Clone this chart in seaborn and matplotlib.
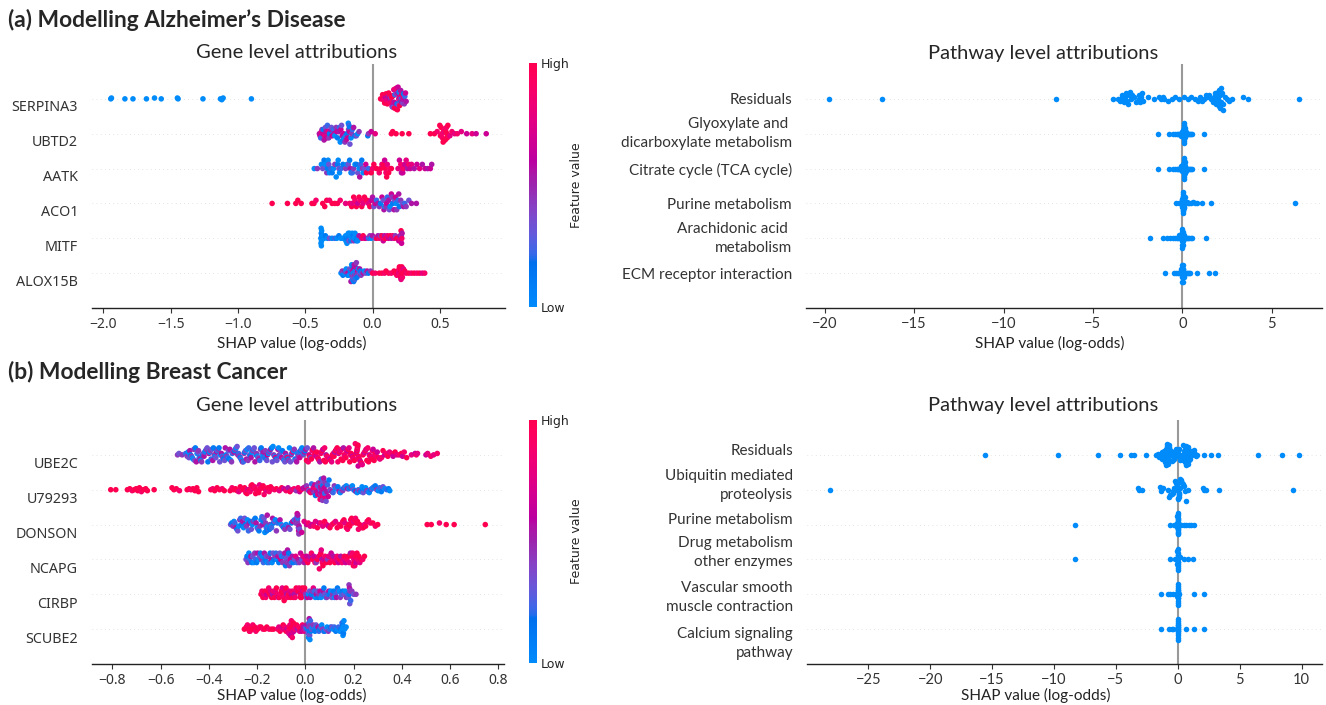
import numpy as np
import pandas as pd
import matplotlib
matplotlib.use("Agg")
import matplotlib.pyplot as plt
import matplotlib.transforms as mtransforms
from matplotlib.colors import LinearSegmentedColormap, Normalize
from matplotlib.cm import ScalarMappable
import seaborn as sns

# ------------------------------------------------------------------ data
# gene rows: (SHAP value x 1000, feature value code 0=low .. 9=high)
AD_GENES = ["SERPINA3", "UBTD2", "AATK", "ACO1", "MITF", "ALOX15B"]
SERPINA3 = [(-1945,0),(-1940,0),(-1840,0),(-1780,0),(-1680,0),(-1620,0),(-1570,0),(-1450,0),(-1445,0),(-1260,0),(-1130,0),(-1120,0),(-1110,0),(-900,0),
    (60,9),(75,9),(80,8),(90,9),(95,6),(100,9),(105,7),(110,9),(115,5),(120,9),(122,8),(128,6),(130,9),(135,4),(140,8),(142,9),(145,6),(148,9),(150,3),
    (155,9),(158,7),(160,5),(163,9),(166,2),(170,8),(172,6),(175,9),(178,4),(180,7),(182,1),(185,9),(188,5),(190,6),(192,3),(195,8),(198,0),(200,6),
    (202,9),(204,4),(206,2),(208,7),(210,5),(212,1),(214,8),(216,4),(218,6),(220,0),(222,9),(224,5),(226,3),(228,7),(230,1),(233,5),(236,4),(240,2),(245,6),(250,5)]
UBTD2 = [(-395,5),(-390,6),(-385,2),(-380,7),(-375,4),(-370,6),(-365,1),(-360,5),(-355,7),(-350,3),(-345,5),(-340,6),(-335,2),(-330,7),(-325,4),(-320,1),
    (-310,5),(-305,3),(-300,6),(-290,2),(-285,5),(-280,0),(-270,4),(-265,6),(-260,1),(-250,5),(-245,2),(-240,0),(-235,6),(-230,3),(-225,5),(-220,1),
    (-215,6),(-210,0),(-205,4),(-200,2),(-195,5),(-190,1),(-185,6),(-180,0),(-178,4),(-175,2),(-172,5),(-170,1),(-168,3),(-165,6),(-160,0),(-155,4),
    (-150,2),(-140,5),(-130,1),(-120,3),(-110,0),(-100,4),(-35,1),(-30,4),(-10,6),(20,7),(140,9),(150,9),(175,9),(220,9),(270,9),(430,9),(460,9),
    (480,8),(500,9),(505,9),(510,9),(515,8),(520,8),(525,9),(528,9),(530,9),(535,7),(538,8),(540,9),(545,9),(550,8),(552,9),(555,9),(560,9),(575,7),
    (590,8),(610,7),(630,8),(660,7),(700,6),(740,7),(770,6),(845,6)]
AATK = [(-433,0),(-410,4),(-380,0),(-370,3),(-360,1),(-350,0),(-340,4),(-335,1),(-330,0),(-325,3),(-320,0),(-310,2),(-300,1),(-290,0),(-280,4),(-270,0),
    (-260,1),(-255,0),(-250,3),(-245,0),(-235,2),(-220,1),(-200,4),(-190,0),(-180,3),(-170,1),(-165,5),(-160,0),(-150,2),(-140,4),(-130,0),(-120,1),
    (-110,3),(-100,0),(-95,5),(-90,2),(-80,1),(-75,4),(-70,0),(-60,3),(-50,6),(-45,9),(-30,2),(-10,9),(0,8),(10,9),(30,9),(50,8),(60,9),(70,7),(80,9),
    (90,6),(95,9),(100,8),(105,9),(110,7),(120,9),(130,8),(140,9),(190,7),(200,6),(210,8),(215,5),(220,7),(225,6),(230,8),(240,6),(250,7),(260,5),
    (270,8),(280,6),(290,7),(310,5),(330,6),(350,7),(370,5),(390,6),(410,5),(430,6),(440,5)]
ACO1 = [(-746,9),(-632,9),(-570,9),(-555,9),(-530,9),(-450,9),(-435,9),(-420,8),(-370,9),(-355,9),(-340,9),(-320,8),(-300,9),(-280,9),(-260,9),(-240,8),
    (-200,7),(-170,8),(-155,9),(-150,7),(-140,9),(-130,8),(-120,9),(-110,6),(-100,9),(-90,8),(-80,9),(-70,7),(-60,9),(-50,8),(-40,9),(-30,7),(-20,9),
    (-10,6),(0,5),(10,3),(20,6),(30,2),(40,5),(50,4),(60,1),(70,6),(80,3),(85,5),(90,0),(100,4),(105,6),(110,2),(120,5),(125,3),(130,0),(140,6),(145,4),
    (150,1),(160,5),(165,3),(170,6),(175,0),(180,4),(190,2),(195,5),(200,1),(210,4),(220,3),(230,5),(240,2),(250,4),(270,3),(290,5),(326,5)]
MITF = [(-384,0),(-383,0),(-382,0),(-381,1),(-380,0),(-379,0),(-378,0),(-377,1),(-370,0),(-360,0),(-350,1),(-335,0),(-320,3),(-300,0),(-280,2),
    (-265,0),(-250,1),(-235,0),(-220,0),(-200,0),(-198,0),(-195,1),(-190,0),(-186,0),(-180,0),(-178,1),(-175,3),(-170,0),(-165,0),(-160,1),(-155,0),
    (-150,0),(-145,1),(-140,4),(-135,0),(-130,0),(-125,0),(-120,1),(-115,1),(-110,0),(-105,0),(-100,5),(-80,7),(-70,9),(-60,8),(-50,6),
    (-30,2),(-20,4),(-10,0),(0,5),(20,3),(30,9),(40,5),(50,8),(60,4),(70,9),(80,6),(85,8),(90,5),(100,9),(110,7),(120,6),(130,9),(140,5),(150,8),(160,7),
    (170,4),(180,9),(195,6),(200,8),(205,5),(210,7),(212,9),(214,4),(216,6),(218,8),(220,5)]
ALOX15B = [(-234,0),(-225,4),(-220,1),(-210,0),(-205,5),(-200,2),(-195,0),(-190,4),(-185,1),(-180,6),(-175,0),(-170,3),(-165,1),(-160,5),(-158,3),
    (-155,0),(-152,4),(-150,2),(-148,5),(-146,1),(-145,0),(-142,3),(-140,1),(-138,6),(-136,5),(-135,4),(-132,2),(-130,0),(-128,5),(-125,2),(-122,0),
    (-120,4),(-118,4),(-115,1),(-110,6),(-105,0),(-100,3),(-95,5),(-90,1),(-85,4),(-80,2),(-70,5),(-60,0),(-50,3),(-40,5),(-30,1),(-15,4),(0,9),(20,8),
    (50,9),(70,9),(90,8),(100,9),(120,9),(140,8),(160,9),(170,9),(180,8),(185,9),(190,9),(195,7),(198,8),(200,9),(205,8),(208,9),(210,9),(212,7),
    (215,9),(218,9),(220,8),(222,8),(225,9),(230,7),(240,9),(250,8),(270,9),(290,8),(310,9),(330,8),(350,9),(370,7),(388,8)]

# pathway rows: SHAP values (log-odds)
AD_PATHWAYS = ["Residuals", "Glyoxylate and \ndicarboxylate metabolism", "Citrate cycle (TCA cycle)",
               "Purine metabolism", "Arachidonic acid \nmetabolism", "ECM receptor interaction"]
AD_RESIDUALS = [-19.74, -16.8, -7.08, -3.89, -3.6, -3.5, -3.4, -3.35, -3.3, -3.25, -3.2, -3.15, -3.1, -3.05, -3.0, -2.95, -2.9, -2.8, -2.7,
                -2.6, -2.5, -2.45, -2.4, -2.35, -2.3, -2.25, -2.2, -1.9, -1.6, -1.3, -1.2, -1.1, -1.0, -0.8, -0.6, -0.4, -0.2, 0.1, 0.3, 0.5,
                0.7, 0.9, 1.0, 1.1, 1.2, 1.3, 1.4, 1.5, 1.6, 1.7, 1.75, 1.8, 1.85, 1.9, 1.95, 2.0, 2.02, 2.03, 2.05, 2.07, 2.1, 2.12, 2.15,
                2.18, 2.2, 2.25, 2.3, 2.4, 2.5, 2.6, 2.8, 3.4, 3.65, 6.5]
AD_GLYOX = [-1.37, -0.73, -0.5, -0.4, -0.3, -0.25, -0.2, -0.15, -0.1, -0.07, -0.05, -0.03, -0.02, 0.0, 0.02, 0.04, 0.05, 0.06, 0.07, 0.08,
            0.085, 0.09, 0.095, 0.1, 0.102, 0.105, 0.108, 0.11, 0.112, 0.115, 0.118, 0.12, 0.125, 0.13, 0.14, 0.15, 0.16, 0.18, 0.2, 0.22,
            0.25, 0.3, 0.35, 0.42, 0.5, 0.55, 1.22]
AD_CITRATE = [-1.38, -0.74, -0.5, -0.42, -0.3, -0.25, -0.2, -0.15, -0.12, -0.08, -0.05, -0.03, -0.01, 0.0, 0.02, 0.04, 0.05, 0.06, 0.07, 0.08,
              0.085, 0.09, 0.095, 0.1, 0.102, 0.105, 0.108, 0.11, 0.112, 0.115, 0.118, 0.12, 0.125, 0.13, 0.14, 0.15, 0.16, 0.18, 0.2, 0.22,
              0.26, 0.3, 0.36, 0.42, 0.5, 0.56, 1.22]
AD_PURINE = [-0.34, -0.2, -0.1, -0.06, -0.04, -0.02, -0.01, 0.0, 0.005, 0.01, 0.015, 0.02, 0.025, 0.03, 0.035, 0.04, 0.045, 0.05, 0.055,
             0.06, 0.07, 0.08, 0.1, 0.12, 0.15, 0.2, 0.25, 0.3, 0.4, 0.5, 0.6, 0.7, 0.83, 1.1, 1.63, 6.3]
AD_ARACH = [-1.8, -1.07, -0.86, -0.67, -0.5, -0.4, -0.3, -0.25, -0.2, -0.15, -0.1, -0.08, -0.06, -0.04, -0.03, -0.02, -0.01, 0.0, 0.005,
            0.01, 0.015, 0.02, 0.03, 0.04, 0.06, 0.08, 0.1, 0.15, 0.2, 0.25, 0.3, 0.4, 0.5, 0.55, 1.35]
AD_ECM = [-0.99, -0.45, -0.35, -0.25, -0.2, -0.15, -0.1, -0.07, -0.05, -0.03, -0.02, -0.01, 0.0, 0.005, 0.01, 0.015, 0.02, 0.03, 0.04,
          0.06, 0.08, 0.1, 0.15, 0.2, 0.25, 0.3, 0.35, 0.45, 0.83, 1.48, 1.8]

BC_GENES = ["UBE2C", "U79293", "DONSON", "NCAPG", "CIRBP", "SCUBE2"]
UBE2C = [(-530,4),(-524,3),(-511,4),(-496,2),(-490,4),(-486,0),(-483,3),(-479,5),(-476,1),(-472,4),(-469,2),(-466,0),(-462,4),(-459,3),(-456,1),
    (-452,5),(-449,0),(-446,3),(-443,4),(-440,2),(-436,5),(-433,0),(-430,4),(-427,1),(-423,3),(-420,5),(-417,2),(-414,0),(-410,4),(-407,3),(-404,1),
    (-400,5),(-397,0),(-394,4),(-391,2),(-387,3),(-384,5),(-381,1),(-378,4),(-374,0),(-371,3),(-368,5),(-365,2),(-361,4),(-358,1),(-355,3),(-352,0),
    (-348,5),(-345,2),(-342,4),(-339,1),(-335,3),(-332,5),(-329,0),(-326,4),(-322,2),(-319,3),(-316,1),(-313,5),(-309,0),(-306,4),(-303,2),(-300,3),
    (-296,5),(-293,1),(-290,4),(-287,0),(-283,3),(-280,5),(-277,2),(-274,4),(-270,1),(-267,3),(-264,0),(-261,5),(-257,2),(-254,4),(-251,1),(-248,3),
    (-244,5),(-241,0),(-238,4),(-235,2),(-231,3),(-228,1),(-225,5),(-222,0),(-218,4),(-215,2),(-212,3),(-209,5),(-205,1),(-202,4),(-199,0),(-196,3),
    (-192,5),(-189,2),(-186,4),(-183,1),(-179,3),(-176,0),(-173,5),(-170,2),(-166,4),(-163,1),(-160,3),(-157,6),(-153,0),(-150,4),(-147,2),(-144,5),
    (-140,1),(-137,3),(-134,0),(-131,4),(-127,2),(-124,7),(-121,1),(-118,3),(-114,5),(-111,0),(-108,4),(-105,2),(-101,3),(-98,6),(-95,1),(-92,4),
    (-88,0),(-85,3),(-82,5),(-79,2),(-75,8),(-72,1),(-69,4),(-66,0),(-62,3),(-59,5),(-56,2),(-53,7),(-49,0),(-46,4),(-43,1),(-40,3),(-36,5),(-33,0),
    (-30,4),(-27,2),(-23,6),(-20,1),(-17,3),(-14,0),(-10,4),(-7,2),(-4,5),(-1,1),
    (2,5),(5,9),(8,3),(12,8),(15,6),(18,9),(21,4),(25,9),(28,7),(31,9),(34,5),(38,8),(41,9),(44,6),(47,9),(51,7),(54,9),(57,8),(60,5),(64,9),(67,7),
    (70,9),(73,6),(77,9),(80,8),(83,9),(86,5),(90,9),(93,7),(96,9),(99,8),(103,6),(106,9),(109,7),(112,9),(116,8),(119,9),(122,5),(125,9),(129,7),
    (132,9),(135,8),(138,6),(142,9),(145,7),(148,9),(151,8),(155,9),(158,5),(161,9),(164,7),(168,9),(171,8),(174,6),(177,9),(181,7),(184,9),(187,8),
    (190,9),(194,6),(197,9),(200,7),(203,9),(207,8),(210,9),(213,6),(214,9),(215,7),(216,9),(217,8),(218,9),(219,6),(220,9),(221,7),(223,9),(226,8),
    (229,6),(233,9),(236,7),(239,9),(242,8),(246,6),(249,9),(252,7),(255,9),(259,8),(262,9),(265,6),(268,9),(272,7),(275,9),(278,8),(281,6),(285,9),
    (288,7),(291,9),(294,8),(298,6),(303,9),(309,7),(316,8),(322,9),(329,6),(335,8),(342,9),(349,7),(356,8),(364,6),(372,9),(380,7),(389,8),(398,9),
    (403,6),(410,8),(420,9),(440,7),(455,6),(460,8),(465,7),(500,6),(507,7),(520,8),(532,7),(547,8)]
U79293 = [(-807,9),(-786,9),(-738,9),(-728,9),(-718,8),(-710,9),(-702,9),(-695,9),(-688,9),(-680,8),(-672,9),(-662,9),(-655,9),(-627,9),(-553,9),
    (-545,9),(-535,9),(-522,8),(-490,9),(-482,9),(-474,8),(-466,9),(-458,9),(-450,9),(-443,9),(-392,9),(-384,8),(-376,9),(-366,9),(-356,9),(-345,8),
    (-336,9),(-312,9),(-304,8),(-297,9),(-290,9),(-283,9),(-276,7),(-270,9),(-264,8),(-258,9),(-252,9),(-247,8),(-242,9),(-238,6),(-234,9),(-229,8),
    (-225,9),(-221,9),(-217,7),(-213,9),(-210,8),(-206,9),(-203,9),(-199,8),(-196,9),(-193,9),(-190,7),(-186,9),(-183,8),(-179,9),(-175,9),(-171,8),
    (-166,9),(-161,7),(-156,9),(-150,8),(-144,9),(-137,9),(-128,8),(-120,9),(-108,7),(-98,9),(-90,6),(-80,8),(-72,5),(-64,9),(-56,7),(-47,8),(-38,4),
    (-30,8),(-24,6),(-18,9),(-12,7),(-7,5),
    (0,6),(5,4),(10,7),(14,3),(18,6),(22,8),(26,2),(30,5),(33,7),(36,4),(39,6),(42,1),(45,8),(48,5),(50,3),(52,7),(54,4),(56,6),(58,2),(60,5),(61,8),
    (62,3),(63,6),(64,4),(65,7),(66,2),(67,5),(68,6),(69,3),(70,8),(71,4),(72,5),(73,1),(74,7),(75,3),(76,5),(78,6),(80,2),(82,4),(84,7),(86,3),(89,5),
    (92,2),(95,6),(98,1),(102,4),(106,3),(110,5),
    (115,2),(120,4),(125,0),(130,3),(135,1),(140,5),(145,0),(150,2),(155,4),(160,1),(165,3),(170,0),(175,5),(180,2),(185,1),(190,4),(195,0),(200,3),
    (205,1),(210,5),(215,0),(220,2),(225,4),(230,1),(235,0),(240,3),(245,1),(250,0),(255,4),(260,2),(265,0),(270,1),(275,3),(280,0),(285,2),(290,1),
    (296,4),(302,0),(308,2),(315,1),(322,3),(330,0),(338,2),(345,1),(350,0)]
DONSON = [(-310,3),(-305,1),(-300,4),(-296,0),(-292,2),(-288,5),(-284,1),(-280,3),(-276,0),(-272,4),(-268,2),(-264,1),(-260,5),(-256,0),(-252,3),
    (-248,1),(-244,4),(-240,0),(-236,2),(-232,5),(-228,1),(-224,3),(-220,0),(-216,4),(-212,2),(-208,1),(-204,5),(-200,0),(-196,3),(-192,1),(-188,4),
    (-184,0),(-180,2),(-177,5),(-174,1),(-171,3),(-168,0),(-165,4),(-162,2),(-160,1),(-158,5),(-155,0),(-152,3),(-149,1),(-146,4),(-143,0),(-140,2),
    (-136,5),(-132,1),(-128,3),(-124,0),(-120,4),(-115,2),(-110,1),(-105,5),(-100,0),(-95,3),(-90,1),(-85,4),(-80,0),(-75,2),(-70,5),(-64,3),(-58,1),
    (-52,6),(-46,2),(-40,4),(-37,5),(-35,3),(-34,6),(-33,4),(-32,2),(-31,5),(-30,4),(-29,3),(-28,6),(-27,4),(-26,5),(-24,3),
    (-15,6),(-5,7),(5,6),(12,8),(20,7),(28,6),(35,8),(42,7),(50,9),(57,6),(64,8),(72,7),(80,9),(88,8),(95,6),(102,9),(110,8),(118,9),(125,7),(132,9),
    (140,8),(147,9),(155,8),(160,9),(165,7),(170,9),(175,8),(180,9),(184,9),(188,8),(192,9),(196,9),(200,7),(204,9),(208,8),(212,9),(216,9),(220,8),
    (225,9),(230,9),(235,8),(240,9),(245,7),(250,9),(256,8),(262,9),(270,8),(280,9),(290,8),(300,9),(505,9),(522,9),(556,8),(584,9),(617,9),(746,9)]
NCAPG = [(-246,3),(-242,1),(-238,4),(-234,0),(-230,2),(-226,5),(-222,1),(-218,3),(-214,0),(-210,4),(-206,2),(-202,1),(-198,5),(-194,0),(-190,3),
    (-186,1),(-182,4),(-178,0),(-174,2),(-170,5),(-166,1),(-162,3),(-158,0),(-154,4),(-150,2),(-146,1),(-142,5),(-138,0),(-134,3),(-130,1),(-126,4),
    (-122,2),(-118,0),(-114,5),(-110,1),(-106,3),(-102,6),(-98,0),(-94,4),(-90,2),(-86,5),(-82,1),(-79,3),(-77,4),(-74,5),(-71,3),
    (-69,1),(-66,4),(-62,6),(-58,2),(-54,5),(-50,1),(-45,3),(-40,7),(-35,2),(-30,5),(-25,4),(-20,6),(-15,3),(-10,7),(-5,5),
    (0,8),(5,6),(10,9),(15,7),(20,5),(25,8),(30,9),(35,6),(40,8),(45,4),(50,9),(55,7),(58,8),(61,9),(64,9),(66,7),(68,5),(70,8),
    (73,9),(77,6),(82,8),(87,9),(92,4),(97,7),(102,9),(107,6),(112,8),(117,5),(122,9),(127,7),(132,8),(137,6),(142,9),(147,5),(152,8),(157,7),(162,9),
    (167,6),(172,8),(177,9),(182,7),(187,5),(192,9),(196,8),(199,9),(201,7),(203,9),(205,8),(207,9),(210,6),(214,9),(218,8),(222,9),(226,7),(232,9),
    (238,8),(245,9)]
CIRBP = [(-184,9),(-180,8),(-176,9),(-172,7),(-168,9),(-164,8),(-160,6),(-156,9),(-152,8),(-148,9),(-144,7),(-140,9),(-136,5),(-132,8),(-128,9),
    (-124,7),(-120,9),(-116,8),(-112,6),(-108,9),(-104,8),(-100,9),(-96,7),(-93,9),(-90,8),(-88,9),(-86,9),(-83,7),(-80,9),(-77,5),
    (-74,8),(-70,9),(-66,7),(-62,9),(-58,6),(-54,8),(-50,9),(-46,5),(-42,8),(-38,9),(-34,7),(-30,9),(-26,8),(-22,6),(-20,9),(-18,9),
    (-16,9),(-13,9),(-10,6),(-6,8),(-3,9),
    (1,4),(5,2),(9,6),(13,0),(17,3),(21,5),(25,1),(29,4),(33,7),(37,2),(41,0),(45,5),(49,3),(53,1),(57,4),(61,6),(65,0),(69,2),(73,5),(77,1),(81,3),
    (85,0),(89,4),(93,2),(97,5),(101,1),(105,0),(109,3),(113,4),(117,1),(121,0),(125,2),(129,5),(133,1),(137,3),(141,0),(145,4),(150,2),(155,1),
    (160,3),(165,0),(170,4),(175,2),(179,3),(181,4),(182,1),(183,5),(184,3),(185,4),(188,2),(193,4),(200,3),(210,4)]
SCUBE2 = [(-253,9),(-245,9),(-240,8),(-236,9),(-232,9),(-229,8),(-226,9),(-222,9),(-218,8),(-214,9),(-210,9),(-205,8),(-198,9),(-190,8),(-184,9),
    (-176,8),(-168,9),(-160,9),(-150,8),(-140,9),(-132,9),
    (-115,8),(-110,7),(-105,9),(-100,8),(-96,6),(-92,9),(-88,7),(-84,8),(-80,9),(-76,6),(-72,8),(-69,7),(-66,9),(-64,8),(-62,6),(-60,9),(-59,7),
    (-58,8),(-57,9),(-56,6),(-54,8),(-52,7),(-50,9),(-47,6),(-44,8),(-40,7),(-36,9),(-32,5),(-28,8),(-24,7),(-20,9),(-16,6),(-12,8),(-8,5),(-4,7),
    (0,4),(3,2),(6,5),(9,1),(11,3),(13,0),(14,4),(15,2),(16,5),(17,1),(18,3),(19,0),(20,4),(21,2),(23,1),(26,3),(29,0),(32,4),(36,2),(40,1),(44,3),
    (48,0),(52,5),(56,2),(60,1),(64,3),(68,0),(72,4),(76,2),(80,1),(85,3),(90,0),(95,4),(100,2),(105,1),(110,3),(115,0),(120,2),(126,1),(132,0),
    (138,2),(143,0),(147,1),(150,0),(152,2),(154,0),(155,1),(156,0),(157,0),(158,1),(160,0),(163,0),(169,0)]

BC_PATHWAYS = ["Residuals", "Ubiquitin mediated\nproteolysis", "Purine metabolism", "Drug metabolism\nother enzymes",
               "Vascular smooth\nmuscle contraction", "Calcium signaling\npathway"]
BC_RESIDUALS = [-15.6, -9.7, -6.45, -4.65, -3.8, -3.55, -2.57, -1.76, -1.6, -1.5, -1.4, -1.3, -1.25, -1.2, -1.15, -1.1, -1.05, -1.0, -0.98,
                -0.95, -0.92, -0.9, -0.88, -0.85, -0.83, -0.8, -0.78, -0.76, -0.74, -0.72, -0.7, -0.68, -0.65, -0.62, -0.6, -0.55, -0.5,
                -0.45, -0.4, -0.35, -0.3, -0.25, -0.2, -0.15, -0.1, -0.05, 0.0, 0.05, 0.1, 0.15, 0.2, 0.25, 0.3, 0.35, 0.4, 0.45, 0.5, 0.55,
                0.6, 0.62, 0.65, 0.68, 0.7, 0.72, 0.74, 0.76, 0.78, 0.8, 0.82, 0.85, 0.88, 0.9, 0.92, 0.95, 1.0, 1.05, 1.1, 1.15, 1.2, 1.3,
                1.4, 1.5, 1.57, 2.1, 2.7, 3.27, 6.5, 8.4, 9.76]
BC_UBIQ = [-28.06, -3.25, -3.15, -2.9, -1.46, -1.35, -1.2, -0.8, -0.7, -0.6, -0.5, -0.4, -0.35, -0.3, -0.25, -0.2, -0.15, -0.1, -0.08, -0.05,
           -0.03, 0.0, 0.02, 0.04, 0.06, 0.08, 0.1, 0.12, 0.15, 0.2, 0.25, 0.3, 0.35, 0.4, 0.5, 0.6, 0.7, 0.85, 2.0, 2.15, 2.3, 3.34, 9.3]
BC_PURINE = [-8.27, -0.64, -0.3, -0.1, -0.04, -0.03, -0.02, -0.01, -0.01, 0.0, 0.0, 0.0, 0.01, 0.01, 0.02, 0.02, 0.03, 0.03, 0.04, 0.15,
             0.3, 0.5, 0.7, 0.9, 1.1, 1.3]
BC_DRUG = [-8.27, -0.64, -0.2, -0.05, -0.04, -0.03, -0.02, -0.02, -0.01, -0.01, 0.0, 0.0, 0.01, 0.01, 0.02, 0.02, 0.03, 0.04, 0.2, 0.5,
           0.8, 1.25]
BC_VASC = [-1.35, -0.8, -0.6, -0.4, -0.15, -0.05, -0.012, -0.01, -0.008, -0.006, -0.004, -0.002, 0.0, 0.002, 0.004, 0.006, 0.008, 0.01,
           0.012, 0.014, 0.03, 0.08, 1.3, 2.1]
BC_CALC = [-1.35, -0.7, -0.5, -0.35, -0.1, -0.012, -0.01, -0.008, -0.006, -0.004, -0.002, 0.0, 0.002, 0.004, 0.006, 0.008, 0.01, 0.012,
           0.014, 0.05, 0.67, 1.3, 2.1]

# ------------------------------------------------------------------ style
sns.set_theme(style="white")
plt.rcParams["font.family"] = ["DejaVu Sans"]
plt.rcParams["axes.unicode_minus"] = True

W, H = 1326, 705
BLUE = "#008bfb"
AXIS_COLOR = "#333333"
GENE_FONT = "Noto Sans"
PATH_FONT = "Lato"


def lch2rgb(l, c, h):
    a, b = c * np.cos(h), c * np.sin(h)
    fy = (l + 16.0) / 116.0
    fx, fz = fy + a / 500.0, fy - b / 200.0
    f = np.array([fx, fy, fz])
    xyz = np.where(f > 0.2068966, f ** 3, (f - 16.0 / 116.0) / 7.787) * np.array([0.95047, 1.0, 1.08883])
    m = np.array([[3.2406, -1.5372, -0.4986], [-0.9689, 1.8758, 0.0415], [0.0557, -0.2040, 1.0570]])
    rgb = m @ xyz
    rgb = np.where(rgb > 0.0031308, 1.055 * np.power(np.clip(rgb, 0, None), 1 / 2.4) - 0.055, 12.92 * rgb)
    return np.clip(rgb, 0, 1)


def shap_red_blue():
    blue_lch = [54.0, 70.0, 4.6588]
    red_lch = [54.0, 90.0, 0.35470565 + 2 * np.pi]
    l_mid, nsteps = 40.0, 100
    lv = list(np.linspace(blue_lch[0], l_mid, nsteps // 2)) + list(np.linspace(l_mid, red_lch[0], nsteps // 2))
    cv = np.linspace(blue_lch[1], red_lch[1], nsteps)
    hv = np.linspace(blue_lch[2], red_lch[2], nsteps)
    cols = [lch2rgb(l, c, h) for l, c, h in zip(lv, cv, hv)]
    return LinearSegmentedColormap.from_list("red_blue", cols)


CMAP = shap_red_blue()


def swarm(vals, nbins, row_height=0.4):
    v = np.asarray(vals, float)
    n = len(v)
    q = np.round(nbins * (v - v.min()) / (v.max() - v.min() + 1e-8))
    key = (np.arange(n) * 37) % n
    inds = np.lexsort((key, q))
    ys = np.zeros(n)
    layer, last = 0, None
    for i in inds:
        if q[i] != last:
            layer = 0
        ys[i] = np.ceil(layer / 2) * ((layer % 2) * 2 - 1)
        layer += 1
        last = q[i]
    ys *= 0.9 * (row_height / np.max(ys + 1))
    return ys


def rect(x0, y0, x1, y1):
    return [x0 / W, 1 - y1 / H, (x1 - x0) / W, (y1 - y0) / H]


def draw_panel(ax, names, rows, colored, nbins, font, ysize, xsize, label_dy):
    n = len(names)
    frames = []
    for i, row in enumerate(rows):
        pos = n - 1 - i
        if colored:
            shap = np.array([p[0] for p in row], float) / 1000.0
            feat = np.array([p[1] for p in row], float) / 9.0
        else:
            shap = np.array(row, float)
            feat = np.zeros(len(row))
        ys = swarm(shap, nbins)
        frames.append(pd.DataFrame({"shap": shap, "y": pos + ys, "feat": feat}))
        ax.axhline(pos, color="#cccccc", lw=0.5, dashes=(1, 5), zorder=-1)
    df = pd.concat(frames, ignore_index=True)
    if colored:
        sns.scatterplot(data=df, x="shap", y="y", hue="feat", palette=CMAP, hue_norm=(0, 1), s=16,
                        linewidth=0, legend=False, ax=ax, zorder=3)
    else:
        sns.scatterplot(data=df, x="shap", y="y", color=BLUE, s=16, linewidth=0, ax=ax, zorder=3)
    ax.axvline(0, color="#999999", lw=1.5, zorder=-1)
    ax.set_ylim(-1, n)
    ax.set_yticks(list(range(n)))
    ax.set_yticklabels(names[::-1], fontfamily=font, fontsize=ysize, color=AXIS_COLOR, linespacing=1.45)
    ax.tick_params(axis="y", length=0, pad=10)
    ax.tick_params(axis="x", length=3.5, width=0.8, color=AXIS_COLOR, labelcolor=AXIS_COLOR,
                   labelsize=xsize, labelfontfamily=font, pad=3)
    ax.set_xlabel("")
    ax.set_ylabel("")
    for s in ["left", "top", "right"]:
        ax.spines[s].set_visible(False)
    ax.spines["bottom"].set_color("#222222")
    ax.spines["bottom"].set_linewidth(1.0)
    ax.xaxis.set_ticks_position("bottom")
    # fine vertical placement of the row labels (pixels, positive = down), top-to-bottom order
    for i, lab in enumerate(ax.get_yticklabels()):
        dy = label_dy[n - 1 - i]
        if dy:
            off = mtransforms.ScaledTranslation(0, -dy / 100.0, ax.figure.dpi_scale_trans)
            lab.set_transform(lab.get_transform() + off)


def colorbar(fig, r):
    cax = fig.add_axes(r)
    cb = fig.colorbar(ScalarMappable(norm=Normalize(0, 1), cmap=CMAP), cax=cax, ticks=[0, 1])
    cb.set_ticklabels(["Low", "High"])
    cb.ax.tick_params(labelsize=9, length=0, pad=3)
    cb.set_label("Feature value", size=9, labelpad=0)
    cb.outline.set_visible(False)


def ftext(x, y, s, **kw):
    fig.text(x / W, 1 - y / H, s, **kw)


fig = plt.figure(figsize=(W / 100, H / 100), dpi=100)

ax1 = fig.add_axes(rect(92, 64, 505, 308))
draw_panel(ax1, AD_GENES, [SERPINA3, UBTD2, AATK, ACO1, MITF, ALOX15B], True, 30, GENE_FONT, 10.3, 10, [7] * 6)
colorbar(fig, rect(529, 63, 537, 307))

ax2 = fig.add_axes(rect(806, 64, 1322, 308))
draw_panel(ax2, AD_PATHWAYS, [AD_RESIDUALS, AD_GLYOX, AD_CITRATE, AD_PURINE, AD_ARACH, AD_ECM], False, 60, PATH_FONT, 11, 10.5,
           [0, -4.5, 0, 0, -3.5, 0])

ax3 = fig.add_axes(rect(92, 420, 504, 664))
draw_panel(ax3, BC_GENES, [UBE2C, U79293, DONSON, NCAPG, CIRBP, SCUBE2], True, 30, GENE_FONT, 10.3, 10, [8] * 6)
colorbar(fig, rect(529, 420, 537, 663))

ax4 = fig.add_axes(rect(807, 420, 1322, 664))
draw_panel(ax4, BC_PATHWAYS, [BC_RESIDUALS, BC_UBIQ, BC_PURINE, BC_DRUG, BC_VASC, BC_CALC], False, 50, PATH_FONT, 11, 10.5,
           [-5, -8, -6, -10.5, -1, 10])

# titles and axis labels
ftext(8, 20, "(a) Modelling Alzheimer\u2019s Disease", fontfamily=PATH_FONT, fontsize=16.4, fontweight="bold", ha="left", va="center")
ftext(8, 372, "(b) Modelling Breast Cancer", fontfamily=PATH_FONT, fontsize=16.4, fontweight="bold", ha="left", va="center")
for (x, y) in [(297, 53), (297, 405)]:
    ftext(x, y, "Gene level attributions", fontfamily=PATH_FONT, fontsize=14.5, ha="center", va="center")
for (x, y) in [(1043, 53), (1043, 405)]:
    ftext(x, y, "Pathway level attributions", fontfamily=PATH_FONT, fontsize=14.5, ha="center", va="center")
for (x, y) in [(292, 343), (1050, 343), (292, 695), (1036, 695)]:
    ftext(x, y, "SHAP value (log-odds)", fontfamily=PATH_FONT, fontsize=11, ha="center", va="center", color="#222222")

fig.savefig("out.png", dpi=100)
